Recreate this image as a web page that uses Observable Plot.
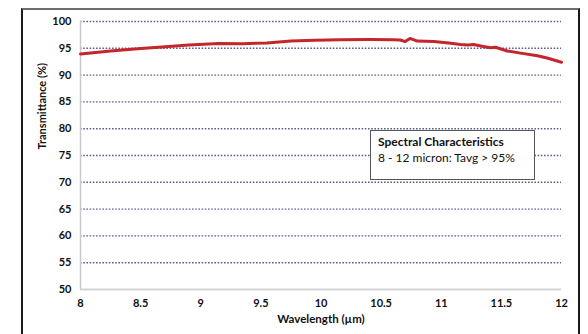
<!DOCTYPE html>
<html>
<head>
<meta charset="utf-8">
<script src="https://cdn.jsdelivr.net/npm/d3@7"></script>
<script src="https://cdn.jsdelivr.net/npm/@observablehq/plot@0.6"></script>
<style>
  html, body { margin: 0; padding: 0; background: #fff; }
  #wrap { position: relative; width: 588px; height: 334px; overflow: hidden; font-family: Lato, "DejaVu Sans", sans-serif; }
  #frame { position: absolute; left: 21px; top: 8px; width: 555px; height: 340px;
           border-top: 2px solid #6e6e6e; border-left: 2px solid #1a1a1a; border-right: 2px solid #1a1a1a; pointer-events: none; }
  #note { position: absolute; left: 370px; top: 130px; width: 165px; height: 50px; background: #fff;
          border: 1px solid #555; box-sizing: border-box; padding: 3px 0 0 7px; font-size: 12px; line-height: 16px; color: #111; }
  #note b { font-weight: 700; }
</style>
</head>
<body>
<div id="wrap"></div>
<script>
const wavelength = [8.0, 8.25, 8.5, 8.65, 8.9, 9.15, 9.35, 9.55, 9.75, 9.95, 10.16, 10.4, 10.6, 10.66, 10.7, 10.74, 10.8, 10.94, 11.08, 11.16, 11.22, 11.27, 11.35, 11.41, 11.45, 11.55, 11.66, 11.8, 11.88, 12.0];
const transmittance = [93.95, 94.5, 94.95, 95.2, 95.6, 95.9, 95.85, 96.0, 96.35, 96.5, 96.6, 96.65, 96.6, 96.55, 96.25, 96.85, 96.35, 96.25, 95.95, 95.7, 95.6, 95.7, 95.35, 95.1, 95.2, 94.5, 94.1, 93.6, 93.2, 92.4];
const xTicks = [8, 8.5, 9, 9.5, 10, 10.5, 11, 11.5, 12];
const yTicks = [50, 55, 60, 65, 70, 75, 80, 85, 90, 95, 100];
const gridValues = [55, 60, 65, 70, 75, 80, 85, 90, 95, 100];
const xTitle = "Wavelength (µm)";
const yTitle = "Transmittance (%)";
const noteTitle = "Spectral Characteristics";
const noteText = "8 - 12 micron: Tavg > 95%";

const data = wavelength.map((w, i) => ({w, t: transmittance[i]}));

const chart = Plot.plot({
  width: 588,
  height: 334,
  marginLeft: 80,
  marginRight: 27,
  marginTop: 21,
  marginBottom: 45,
  style: {fontFamily: "Lato, 'DejaVu Sans', sans-serif", fontSize: "11px", color: "#111", background: "transparent", overflow: "visible"},
  x: {domain: [8, 12]},
  y: {domain: [50, 100]},
  marks: [
    Plot.ruleY(gridValues, {stroke: "#5a6191", strokeWidth: 1.4, strokeDasharray: "1.6,1.6"}),
    Plot.ruleX([8], {stroke: "#c9c9c9", strokeWidth: 1.5}),
    Plot.ruleY([50], {stroke: "#d4d4d4", strokeWidth: 2}),
    Plot.axisY(yTicks, {tickSize: 0, tickPadding: 9, fontWeight: "bold", fontSize: 11, label: null, tickFormat: d => String(d)}),
    Plot.axisX(xTicks, {tickSize: 0, tickPadding: 10, fontWeight: "bold", fontSize: 11, label: null, tickFormat: d => String(d)}),
    Plot.lineY(data, {x: "w", y: "t", stroke: "#c4262e", strokeWidth: 3}),
    Plot.text([xTitle], {frameAnchor: "bottom", dy: 33, fontWeight: "bold", fontSize: 11.5}),
    Plot.text([yTitle], {frameAnchor: "left", dx: -38, dy: -6, rotate: -90, fontWeight: "bold", fontSize: 11})
  ]
});

const wrap = document.getElementById("wrap");
wrap.appendChild(chart);
const frame = document.createElement("div");
frame.id = "frame";
wrap.appendChild(frame);
const note = document.createElement("div");
note.id = "note";
const b = document.createElement("b");
b.textContent = noteTitle;
note.appendChild(b);
note.appendChild(document.createElement("br"));
note.appendChild(document.createTextNode(noteText));
wrap.appendChild(note);
chart.style.position = "absolute";
chart.style.left = "0";
chart.style.top = "0";
</script>
</body>
</html>
